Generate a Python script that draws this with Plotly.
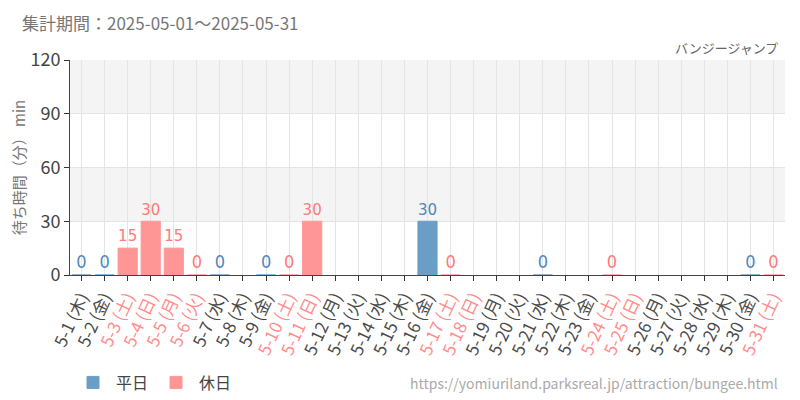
import plotly.graph_objects as go

days = list(range(1, 32))
weekdays = ["木","金","土","日","月","火","水","木","金","土","日","月","火","水","木","金",
            "土","日","月","火","水","木","金","土","日","月","火","水","木","金","土"]
holiday_days = [3, 4, 5, 6, 10, 11, 17, 18, 24, 25, 31]
# wait times (None = no data)
wait = [0, 0, 15, 30, 15, 0, 0, None, 0, 0, 30, None, None, None, None, 30,
        0, None, None, None, 0, None, None, 0, None, None, None, None, None, 0, 0]

cats = [f"5-{d}" for d in days]
is_hol = [d in holiday_days for d in days]

BLUE = "#6a9ec7"
PINK = "#ff9696"
BLUE_T = "#4f88bd"
PINK_T = "#ff7a7a"

ticktext = []
for c, w, h in zip(cats, weekdays, is_hol):
    col = "#ff8c8c" if h else "#4a4a4a"
    ticktext.append(f"<span style='color:{col}'>{c} ({w})</span>")

wk_vals = [v if not h else None for v, h in zip(wait, is_hol)]
hol_vals = [v if h else None for v, h in zip(wait, is_hol)]

fig = go.Figure()
for name, vals, col, tcol in [("平日", wk_vals, BLUE, BLUE_T), ("休日", hol_vals, PINK, PINK_T)]:
    fig.add_trace(go.Bar(
        x=cats, y=vals, name=name,
        marker=dict(color=col, line=dict(color=col, width=1)),
        text=[("" if v is None else str(v)) for v in vals],
        textposition="outside", cliponaxis=False,
        textfont=dict(family="Liberation Sans Narrow, DejaVu Sans Condensed, Roboto", size=18,
                      color=tcol),
    ))

# alternating horizontal bands
for y0, y1 in [(30, 60), (90, 120)]:
    fig.add_shape(type="rect", xref="paper", yref="y", x0=0, x1=1, y0=y0, y1=y1,
                  fillcolor="#f4f4f4", line=dict(width=0), layer="below")

fig.update_layout(
    width=792, height=392,
    margin=dict(l=62, r=15, t=52, b=125, autoexpand=False),
    paper_bgcolor="white", plot_bgcolor="white",
    font=dict(family="Noto Sans CJK JP, Noto Sans", color="#444"),
    barmode="overlay", bargap=0.17,
    showlegend=True,
    legend=dict(orientation="h", x=0.0, y=-0.5, xanchor="left", yanchor="middle",
                font=dict(size=16, color="#444"), itemwidth=36),
    annotations=[
        dict(text="集計期間：2025-05-01～2025-05-31", x=0, y=1, xref="paper", yref="paper",
             xanchor="left", yanchor="middle", xshift=-50, yshift=38, showarrow=False,
             font=dict(size=17, color="#777")),
        dict(text="バンジージャンプ", xref="paper", yref="paper", x=1.0, y=1.0, yshift=13, xshift=-5,
             xanchor="right", yanchor="middle", showarrow=False, font=dict(size=13, color="#666")),
        dict(text="https://yomiuriland.parksreal.jp/attraction/bungee.html", xref="paper", yref="paper",
             x=1.0, y=-0.5, xanchor="right", yanchor="middle", showarrow=False, xshift=-5,
             font=dict(size=14, color="#aaa")),
    ],
)

fig.update_xaxes(
    tickmode="array", tickvals=cats, ticktext=ticktext, tickangle=-65,
    tickfont=dict(size=17), ticks="outside", ticklen=5, tickcolor="#333", automargin=False,
    showgrid=True, gridcolor="#e4e4e4", showline=True, linecolor="#444",
)
fig.update_yaxes(
    range=[0, 120], tickvals=[0, 30, 60, 90, 120], tickfont=dict(size=18, color="#444"),
    ticks="outside", ticklen=5, tickcolor="#333", showline=True, linecolor="#444", automargin=False,
    showgrid=True, gridcolor="#e4e4e4", zeroline=False,
    title=dict(text="待ち時間（分） min", font=dict(size=15, color="#777"), standoff=10),
)

fig.write_html("out.html")
